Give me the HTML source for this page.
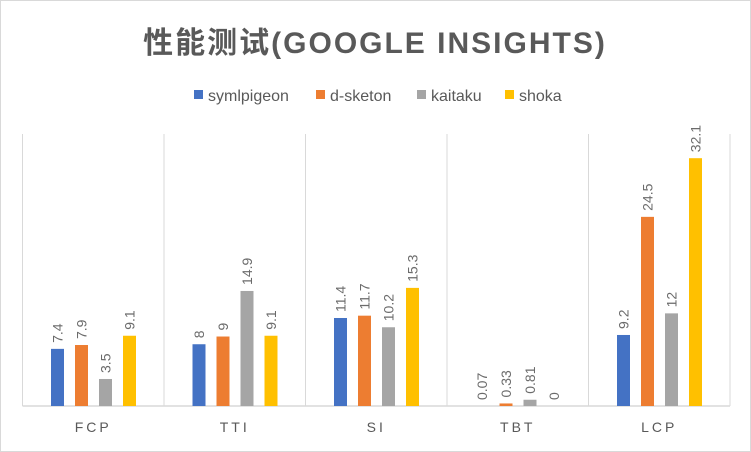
<!DOCTYPE html>
<html><head><meta charset="utf-8"><style>
html,body{margin:0;padding:0;background:#fff}
#c{position:relative;width:751px;height:452px;box-sizing:border-box;border:1px solid #d9d9d9;overflow:hidden;font-family:"Liberation Sans","Noto Sans CJK SC",sans-serif}
</style></head><body>
<div id="c">
<svg id="s" width="751" height="452" style="position:absolute;left:-1px;top:-1px">
<text x="375" y="53" text-anchor="middle" font-size="30" font-weight="bold" fill="#595959" letter-spacing="2" font-family="Liberation Sans, Noto Sans CJK SC, sans-serif">性能测试(GOOGLE INSIGHTS)</text>
<g id="legend"></g>
<g id="plot"></g>
</svg>
</div>
<script>
const categories=["FCP","TTI","SI","TBT","LCP"];
const seriesNames=["symlpigeon","d-sketon","kaitaku","shoka"];
const symlpigeon=[7.4,8,11.4,0,9.2];
const dsketon=[7.9,9,11.7,0.33,24.5];
const kaitaku=[3.5,14.9,10.2,0.81,12];
const shoka=[9.1,9.1,15.3,0,32.1];
const symlLabels=["7.4","8","11.4","0.07","9.2"];
const dskLabels=["7.9","9","11.7","0.33","24.5"];
const kaiLabels=["3.5","14.9","10.2","0.81","12"];
const shoLabels=["9.1","9.1","15.3","0","32.1"];
const colors=["#4472c4","#ed7d31","#a5a5a5","#ffc000"];
const NS="http://www.w3.org/2000/svg";
const plot=document.getElementById('plot');
const left=22.5,catW=141.5,base=406,pxPer=7.72;
const x=(ci,si)=>left+catW*ci+28.5+si*24;
const y=v=>base-v*pxPer;
function mk(t,a,p){const e=document.createElementNS(NS,t);for(const k in a)e.setAttribute(k,a[k]);p.appendChild(e);return e;}
for(let i=0;i<=categories.length;i++){
  const gl=mk('line',{x1:left+catW*i,x2:left+catW*i,y1:134,y2:base,stroke:'#d9d9d9','stroke-width':1},plot);
  
  
}
const ax=mk('line',{x1:left,x2:left+catW*5,y1:base,y2:base,stroke:'#d9d9d9','stroke-width':1.5},plot);


const data=[symlpigeon,dsketon,kaitaku,shoka];
const labs=[symlLabels,dskLabels,kaiLabels,shoLabels];
categories.forEach((c,ci)=>{
  const t=mk('text',{x:left+catW*ci+catW/2,y:432,'text-anchor':'middle','font-size':14,fill:'#595959','letter-spacing':3},plot);
  t.textContent=c;
  
  
  data.forEach((ser,si)=>{
    const v=ser[ci];
    const r=mk('rect',{x:x(ci,si),y:y(v),width:13,height:base-y(v),fill:colors[si]},plot);
    
    
    const cx=x(ci,si)+6.5+5,ty=y(v)-6;
    const l=mk('text',{x:cx,y:ty,'font-size':14,fill:'#6b6b6b',transform:'rotate(-90 '+cx+' '+ty+')'},plot);
    l.textContent=labs[si][ci];
    
    
  });
});
const lg=document.getElementById('legend');
const lx=[194,316,417,505];
seriesNames.forEach((n,i)=>{
  const r=mk('rect',{x:lx[i],y:90,width:9,height:9,fill:colors[i]},lg);
  
  
  const t=mk('text',{x:lx[i]+14,y:101,'font-size':16,fill:'#595959'},lg);
  t.textContent=n;
  
  
});
</script>
</body></html>
